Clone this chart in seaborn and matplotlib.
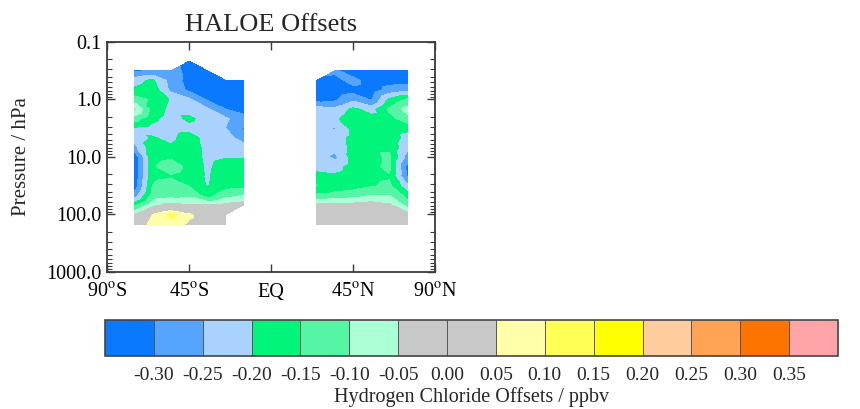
import numpy as np
import matplotlib
matplotlib.use("Agg")
import matplotlib.pyplot as plt
import matplotlib.tri as mtri
from matplotlib.ticker import LogLocator, NullFormatter, NullLocator
import seaborn as sns

nan = np.nan

# UARS pressure grid (hPa), top to bottom
pressure = [0.215, 0.316, 0.464, 0.681, 1.0, 1.47, 2.15, 3.16, 4.64, 6.81,
            10.0, 14.7, 21.5, 31.6, 46.4, 68.1, 100.0, 147.0]

lat_sh = [-75, -65, -55, -45, -35, -25, -15]
lat_nh = [25, 35, 45, 55, 65, 75]

# HCl offsets (ppbv), one row per pressure level, one column per latitude
offset_sh = [
    [nan, nan, nan, -0.34, nan, nan, nan],
    [-0.31, -0.29, -0.26, -0.33, -0.33, nan, nan],
    [-0.22, -0.19, -0.27, -0.32, -0.32, -0.33, -0.34],
    [-0.19, -0.17, -0.26, -0.31, -0.32, -0.33, -0.34],
    [-0.12, -0.16, -0.205, -0.24, -0.305, -0.33, -0.33],
    [-0.045, -0.17, -0.215, -0.22, -0.24, -0.30, -0.32],
    [-0.13, -0.19, -0.22, -0.19, -0.22, -0.24, -0.28],
    [-0.21, -0.22, -0.225, -0.22, -0.23, -0.25, -0.305],
    [-0.23, -0.195, -0.215, -0.17, -0.225, -0.23, -0.27],
    [-0.27, -0.17, -0.19, -0.16, -0.22, -0.22, -0.23],
    [-0.34, -0.165, -0.155, -0.155, -0.22, -0.205, -0.203],
    [-0.34, -0.155, -0.13, -0.16, -0.212, -0.17, -0.175],
    [-0.34, -0.16, -0.155, -0.17, -0.207, -0.165, -0.17],
    [-0.33, -0.148, -0.13, -0.152, -0.203, -0.17, -0.165],
    [-0.28, -0.13, -0.12, -0.11, -0.175, -0.12, -0.10],
    [-0.17, -0.07, -0.03, -0.05, -0.045, -0.035, -0.02],
    [-0.05, 0.05, 0.115, 0.06, 0.01, -0.01, nan],
    [-0.02, 0.08, 0.08, 0.04, 0.02, 0.0, nan],
]

offset_nh = [
    [nan, nan, nan, nan, nan, nan],
    [nan, -0.29, -0.33, -0.33, -0.33, -0.33],
    [-0.31, -0.32, -0.28, -0.33, -0.32, -0.32],
    [-0.33, -0.33, -0.32, -0.33, -0.28, -0.27],
    [-0.32, -0.31, -0.26, -0.305, -0.19, -0.14],
    [-0.22, -0.235, -0.19, -0.22, -0.14, -0.08],
    [-0.22, -0.21, -0.17, -0.18, -0.17, -0.12],
    [-0.23, -0.255, -0.185, -0.16, -0.18, -0.19],
    [-0.22, -0.23, -0.185, -0.16, -0.17, -0.22],
    [-0.22, -0.24, -0.185, -0.16, -0.16, -0.24],
    [-0.225, -0.26, -0.18, -0.165, -0.14, -0.27],
    [-0.22, -0.22, -0.18, -0.16, -0.14, -0.32],
    [-0.18, -0.19, -0.175, -0.16, -0.155, -0.31],
    [-0.205, -0.18, -0.17, -0.155, -0.14, -0.24],
    [-0.14, -0.13, -0.12, -0.10, -0.10, -0.17],
    [-0.03, -0.03, -0.03, -0.02, -0.04, -0.12],
    [-0.02, -0.01, -0.01, 0.0, -0.02, -0.03],
    [-0.01, 0.0, -0.01, 0.0, -0.01, -0.01],
]

level_bounds = [-0.35, -0.30, -0.25, -0.20, -0.15, -0.10, -0.05, 0.00,
                0.05, 0.10, 0.15, 0.20, 0.25, 0.30, 0.35, 0.40]
level_colors = ["#0a78ff", "#55a5ff", "#aad2ff", "#00f57a", "#55f5a5",
                "#aaffd5", "#c8c8c8", "#c8c8c8", "#ffffaa", "#ffff55",
                "#ffff00", "#ffcca0", "#ffa455", "#ff7300", "#ffa5aa"]
cbar_ticks = [-0.30, -0.25, -0.20, -0.15, -0.10, -0.05, 0.00,
              0.05, 0.10, 0.15, 0.20, 0.25, 0.30, 0.35]

lat_ticks = [-90, -45, 0, 45, 90]
lat_labels = [r"90$^{\rm o}$S", r"45$^{\rm o}$S", "EQ", r"45$^{\rm o}$N", r"90$^{\rm o}$N"]
p_ticks = [0.1, 1, 10, 100, 1000]
p_labels = ["0.1", "1.0", "10.0", "100.0", "1000.0"]


def grid_triangles(lats, levels, values):
    # split every grid cell into triangles, keeping only those with valid corners
    z = np.array(values, dtype=float)
    lon, lev = np.meshgrid(lats, levels)
    ok = np.isfinite(z).ravel()
    idx = np.arange(z.size).reshape(z.shape)
    tris = []
    for j in range(z.shape[0] - 1):
        for i in range(z.shape[1] - 1):
            a, b = idx[j, i], idx[j, i + 1]
            c, d = idx[j + 1, i], idx[j + 1, i + 1]
            good = [k for k in (a, b, d, c) if ok[k]]
            if len(good) == 4:
                tris += [[a, b, d], [a, d, c]]
            elif len(good) == 3:
                tris.append(good)
    return mtri.Triangulation(lon.ravel(), lev.ravel(), tris), z.ravel()


sns.set_theme(style="ticks")
plt.rcParams["font.family"] = ["Liberation Serif", "DejaVu Serif"]
plt.rcParams["mathtext.fontset"] = "stix"

palette = sns.color_palette(level_colors)

fig = plt.figure(figsize=(8.6, 4.09), dpi=100)
ax = fig.add_axes([107 / 860, 1 - 272 / 409, 328 / 860, 230 / 409])
cax = fig.add_axes([105 / 860, 1 - 356 / 409, 733 / 860, 36 / 409])

tri_sh, z_sh = grid_triangles(lat_sh, pressure, offset_sh)
tri_nh, z_nh = grid_triangles(lat_nh, pressure, offset_nh)
cs = ax.tricontourf(tri_sh, z_sh, levels=level_bounds, colors=palette)
ax.tricontourf(tri_nh, z_nh, levels=level_bounds, colors=palette)

ax.set_yscale("log")
ax.set_ylim(1000, 0.1)
ax.set_xlim(-90, 90)
ax.set_xticks(lat_ticks, labels=lat_labels)
ax.xaxis.set_minor_locator(NullLocator())
ax.set_yticks(p_ticks, labels=p_labels)
ax.yaxis.set_minor_locator(LogLocator(base=10, subs=range(2, 10)))
ax.yaxis.set_minor_formatter(NullFormatter())

edge = "#3a3a3a"
for s in ax.spines.values():
    s.set_visible(True)
    s.set_color(edge)
    s.set_linewidth(1.3)
ax.tick_params(which="both", direction="in", top=True, right=True, color=edge,
               labelsize=14.5, labelcolor="black")
ax.tick_params(which="major", length=6, width=1.0)
ax.tick_params(which="minor", length=3.5, width=0.8)
ax.tick_params(axis="x", pad=8)
ax.tick_params(axis="y", pad=4)
ax.set_ylabel("Pressure / hPa", fontsize=15, labelpad=11)
ax.set_title("HALOE Offsets", fontsize=19, pad=8)

cbar = fig.colorbar(cs, cax=cax, orientation="horizontal", drawedges=True)
cbar.set_ticks(cbar_ticks, labels=[f"{t:.2f}" for t in cbar_ticks])
cbar.ax.tick_params(length=0, labelsize=14, pad=8)
cbar.set_label("Hydrogen Chloride Offsets / ppbv", fontsize=14.5, labelpad=2)
cbar.outline.set_edgecolor("#444444")
cbar.outline.set_linewidth(1.2)
cbar.dividers.set_color("#555555")
cbar.dividers.set_linewidth(0.7)

fig.savefig("out.png", dpi=100)
